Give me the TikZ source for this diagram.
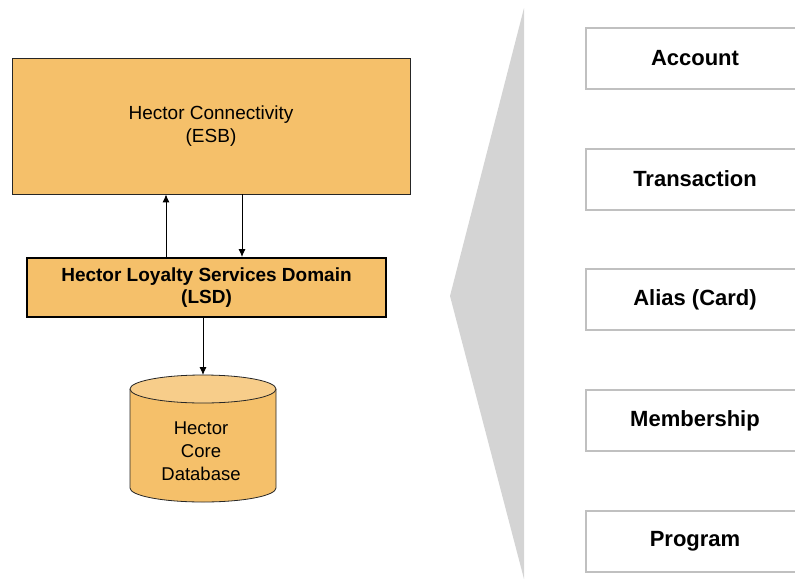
\documentclass[tikz,border=0pt]{standalone}
\usepackage{fontspec}
\setmainfont{Liberation Sans}
\usetikzlibrary{arrows.meta}
\definecolor{boxorange}{RGB}{245,192,106}
\definecolor{toporange}{RGB}{247,205,138}
\definecolor{fangray}{RGB}{212,212,212}
\definecolor{edgegray}{RGB}{192,192,192}
\tikzset{
  orangebox/.style={draw=black!85, fill=boxorange, inner sep=0pt, align=center},
  entity/.style={draw=edgegray, line width=2pt, fill=white, inner sep=0pt,
    minimum width=218pt, minimum height=61pt,
    font=\fontsize{22}{26}\selectfont\bfseries},
  arr/.style={line width=0.9pt, -{Latex[length=8pt,width=7pt]}}
}
\begin{document}
\begin{tikzpicture}[x=1pt,y=-1pt]
\useasboundingbox (0,0) rectangle (795,579);

% callout wedge behind the entity list
\fill[fangray] (524,8) -- (450,296) -- (524,579) -- cycle;

% integration layer
\node[orangebox, line width=0.8pt, minimum width=398pt, minimum height=136pt,
  font=\fontsize{19}{23}\selectfont] (esb) at (211,126)
  {Hector Connectivity\\(ESB)};

% loyalty services domain
\node[orangebox, draw=black, line width=2pt, minimum width=359pt, minimum height=59pt,
  font=\fontsize{19}{22}\selectfont\bfseries] (lsd) at (206.5,287.5)
  {Hector Loyalty Services Domain\\(LSD)};

% core database cylinder (y axis points down, so the lower arc runs 180 -> 0)
\filldraw[draw=black!85, fill=boxorange, line width=0.8pt]
  (130,389) -- (130,488) arc[start angle=180, end angle=0, x radius=73, y radius=14]
  -- (276,389);
\filldraw[draw=black!85, fill=toporange, line width=0.8pt]
  (203,389) ellipse[x radius=73, y radius=14];
\coordinate (dbtop) at (203,375);
\node[align=center, inner sep=0pt, font=\fontsize{18.5}{23}\selectfont] (db) at (201,451)
  {Hector\\Core\\Database};

% connectors
\coordinate (upx) at (166,0);
\coordinate (downx) at (242,0);
\draw[arr] (lsd.north -| upx) -- (esb.south -| upx);
\draw[arr] (esb.south -| downx) -- (lsd.north -| downx);
\draw[arr] (lsd.south -| dbtop) -- (dbtop);

% domain entities
\node[entity] (account) at (695,58) {Account};
\node[entity] (transaction) at (695,179) {Transaction};
\node[entity] (alias) at (695,299.5) {Alias (Card)};
\node[entity] (membership) at (695,420.5) {Membership};
\node[entity] (program) at (695,541) {Program};
\end{tikzpicture}
\end{document}
